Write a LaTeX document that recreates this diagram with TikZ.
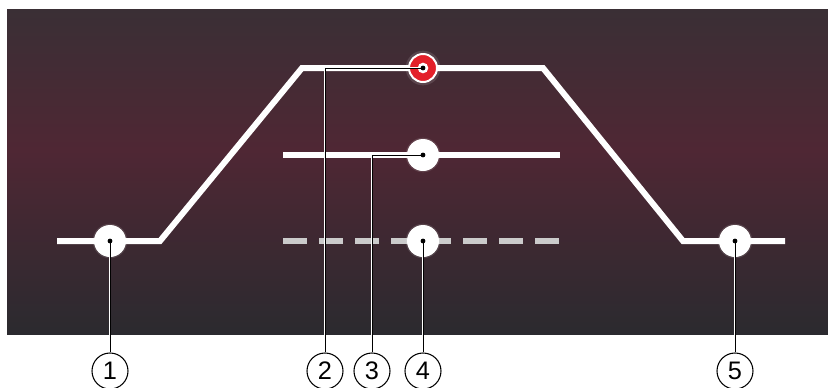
\documentclass[tikz,border=0pt]{standalone}
\usepackage{fontspec}
\setmainfont{Liberation Sans}
\definecolor{bgtop}{HTML}{3A2F35}
\definecolor{bgmid}{HTML}{4F2734}
\definecolor{bgbot}{HTML}{2B2A2F}
\definecolor{dashgray}{HTML}{CBCBCB}
\definecolor{markred}{HTML}{E3202A}
\begin{document}
\begin{tikzpicture}[x=0.75pt,y=-0.75pt,
  trace/.style={draw=white,line width=4.5pt,line join=miter},
  dashtrace/.style={draw=dashgray,line width=4.5pt,dash pattern=on 18pt off 9pt},
  glow/.style={circle,fill=white,minimum size=24pt,inner sep=0pt},
  halo/.style={circle,fill=white,fill opacity=0.12,minimum size=26pt,inner sep=0pt},
  redmark/.style={circle,fill=markred,draw=white,line width=1.5pt,minimum size=21pt,inner sep=0pt},
  redcore/.style={circle,fill=white,minimum size=8pt,inner sep=0pt},
  pin/.style={circle,fill=black,minimum size=3.6pt,inner sep=0pt},
  callout/.style={circle,draw=black,line width=0.8pt,fill=white,minimum size=27pt,inner sep=0pt,font=\fontsize{19}{19}\selectfont},
  leaderbg/.style={draw=white,line width=2pt},
  leader/.style={draw=black,line width=0.7pt}]
\useasboundingbox (0,0) rectangle (828,387);
\clip (0,0) rectangle (828,387);
% dark background panel, darker at top and bottom, maroon in the middle
\shade[top color=bgtop,bottom color=bgmid] (7,9) rectangle (828,150);
\shade[top color=bgmid,bottom color=bgbot] (7,149.5) rectangle (828,334);
% signal traces
\draw[trace] (57,241) -- (160,241) -- (302,68) -- (543,68) -- (683,241) -- (785,241);
\draw[trace] (283,155) -- (560,155);
\draw[dashtrace] (283,241) -- (560,241);
% marker points
\foreach \n/\px/\py in {p1/110/241,p3/423/155,p4/423/241,p5/735/241}{
  \node[halo] at (\px,\py) {};
  \node[glow] (\n) at (\px,\py) {};
}
\node[halo] at (423,68) {};
\node[redmark] (p2) at (423,68) {};
\node[redcore] at (p2) {};
% callout circles
\node[callout] (n1) at (110,371) {1};
\node[callout] (n2) at (325,371) {2};
\node[callout] (n3) at (372,371) {3};
\node[callout] (n4) at (423,371) {4};
\node[callout] (n5) at (735,371) {5};
% leader lines
\foreach \s in {leaderbg,leader}{
  \draw[\s] (p1.center) -- (n1.north);
  \draw[\s] (p2.center) -| (n2.north);
  \draw[\s] (p3.center) -| (n3.north);
  \draw[\s] (p4.center) -- (n4.north);
  \draw[\s] (p5.center) -- (n5.north);
}
\foreach \n in {p1,p2,p3,p4,p5}{\node[pin] at (\n) {};}
\end{tikzpicture}
\end{document}
